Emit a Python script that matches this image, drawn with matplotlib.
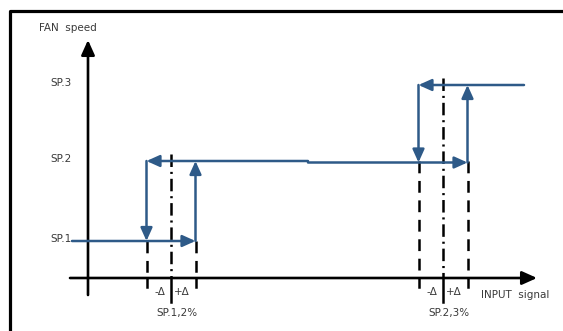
import matplotlib.pyplot as plt

plt.rcParams['lines.scale_dashes'] = False
plt.rcParams['font.family'] = ['Liberation Sans Narrow', 'DejaVu Sans']

# diagram values: x in input units, y in fan-speed units (1 unit ~ 10 px)
speed_labels = ["SP.1", "SP.2", "SP.3"]
speed_levels = [3.7, 11.7, 19.3]
setpoint_labels = ["SP.1,2%", "SP.2,3%"]
setpoints = [8.3, 35.5]
delta = 2.45
line_start = -1.6   # SP.1 line starts left of the y axis
line_end = 43.6     # SP.3 line end
sp2_joint = 22.0    # where the two SP.2 pieces meet

blue = "#2E5A88"
black = "#000000"

fig = plt.figure(figsize=(5.63, 3.31), dpi=100)
ax = fig.add_axes([0, 0, 1, 1])
ax.set_xlim(-8.8, 47.5)
ax.set_ylim(-5.3, 27.8)
ax.axis("off")


def arrow(x0, y0, x1, y1, color=blue, lw=1.8, scale=13):
    ax.annotate("", xy=(x1, y1), xytext=(x0, y0),
                arrowprops=dict(arrowstyle="-|>,head_length=0.6,head_width=0.27",
                                color=color, lw=lw, shrinkA=0, shrinkB=0,
                                mutation_scale=scale))


# frame (only left and top sides are visible)
ax.plot([-7.8, -7.8, 47.5], [-5.3, 26.7, 26.7], color=black, lw=2.3,
        clip_on=False, solid_capstyle="butt")

# axes
arrow(-1.8, 0, 44.9, 0, color=black, lw=1.9, scale=15)
arrow(0, -1.7, 0, 23.8, color=black, lw=1.9, scale=15)

# guide lines for each hysteresis band
for i, sp in enumerate(setpoints):
    low = speed_levels[i]
    high = speed_levels[i + 1]
    for x in (sp - delta, sp + delta):
        ax.plot([x, x], [low, 0], color=black, lw=1.8, dashes=(8.5, 5.5))
        ax.plot([x, x], [0, -0.85], color=black, lw=1.8)
    ax.plot([sp, sp], [high + 0.7, 0], color=black, lw=1.8,
            dashes=(9, 3.5, 1.5, 3.5))
    ax.plot([sp, sp], [0, -2.4], color=black, lw=1.8)

# hysteresis loops
lo1, mid, hi = speed_levels
sp1, sp2 = setpoints
arrow(line_start, lo1, sp1 + delta, lo1)
arrow(sp1 + delta, lo1, sp1 + delta, mid)
arrow(sp2_joint, mid, sp1 - delta, mid)
arrow(sp1 - delta, mid, sp1 - delta, lo1)
arrow(sp2_joint, mid - 0.15, sp2 + delta, mid - 0.15)
arrow(sp2 + delta, mid - 0.15, sp2 + delta, hi)
arrow(line_end, hi, sp2 - delta, hi)
arrow(sp2 - delta, hi, sp2 - delta, mid - 0.15)

# text
tc = "#3a3a3a"
fs = 7.5
ax.text(-2.0, 25.0, "FAN  speed", ha="center", va="center", fontsize=fs, color=tc)
for lab, lev in zip(speed_labels, speed_levels):
    ax.text(-1.6, lev + 0.2, lab, ha="right", va="center", fontsize=fs, color=tc)
for lab, sp in zip(setpoint_labels, setpoints):
    ax.text(sp - 1.1, -1.4, "-Δ", ha="center", va="center", fontsize=fs, color=tc)
    ax.text(sp + 1.1, -1.4, "+Δ", ha="center", va="center", fontsize=fs, color=tc)
    ax.text(sp + 0.6, -3.5, lab, ha="center", va="center", fontsize=fs, color=tc)
ax.text(42.7, -1.7, "INPUT  signal", ha="center", va="center", fontsize=fs, color=tc)

fig.savefig("out.png", dpi=100, facecolor="white")
